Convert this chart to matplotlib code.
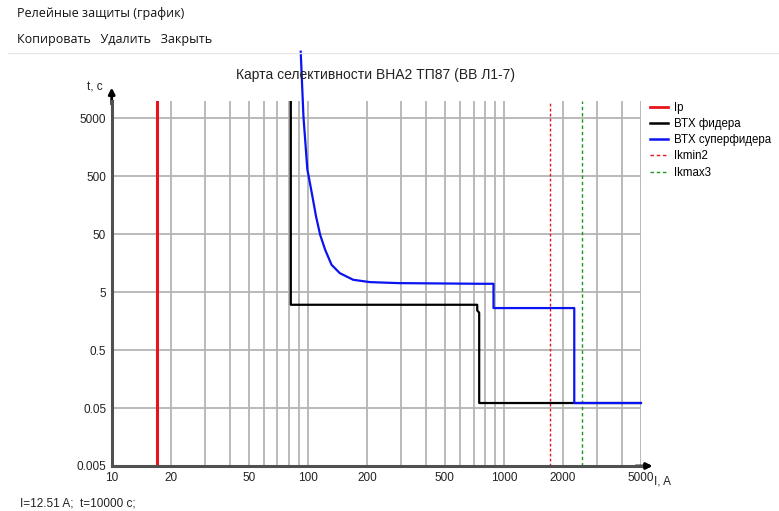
import matplotlib
matplotlib.use("Agg")
import matplotlib.pyplot as plt
from matplotlib.lines import Line2D

plt.rcParams['font.family'] = ['Liberation Sans', 'DejaVu Sans']

# ---- data ----
ip_current = 17.0
ikmin2 = 1708.0
ikmax3 = 2500.0

feeder_I = [81.9, 81.9, 731, 731, 740, 748, 748, 5000]
feeder_t = [10000, 3.02, 3.02, 2.4, 2.3, 2.2, 0.061, 0.061]

super_I = [92.0, 95.0, 99.5, 100.7, 104.8, 110.2, 115.6, 122.6, 132.1, 145.6,
           170.3, 207, 288.6, 757, 885, 885, 2284, 2284, 5000]
super_t = [70000, 5330, 643, 526, 255, 100, 48.6, 26.8, 14.8, 10.6,
           8.15, 7.43, 7.14, 6.95, 6.95, 2.65, 2.65, 0.061, 0.061]

x_ticks = [10, 20, 50, 100, 200, 500, 1000, 2000, 5000]
x_ticklabels = ["10", "20", "50", "100", "200", "500", "1000", "2000", "5000"]
y_ticks = [0.005, 0.05, 0.5, 5, 50, 500, 5000]
y_ticklabels = ["0.005", "0.05", "0.5", "5", "50", "500", "5000"]
x_grid = [20, 30, 40, 50, 60, 70, 80, 90, 100, 200, 300, 400, 500, 600, 700,
          800, 900, 1000, 2000, 3000, 4000, 5000]
y_grid = [0.05, 0.5, 5, 50, 500, 5000]

legend_labels = ["Ip", "ВТХ фидера", "ВТХ суперфидера", "Ikmin2", "Ikmax3"]

W, H = 779, 511
fig = plt.figure(figsize=(W / 100, H / 100), dpi=100)
fig.patch.set_facecolor("white")

# window chrome
fig.text(17 / W, 1 - 14 / H, "Релейные защиты (график)", fontsize=9,
         family=['Open Sans', 'DejaVu Sans'], va='center', ha='left', color='#111111')
fig.text(17 / W, 1 - 40 / H, "Копировать   Удалить   Закрыть", fontsize=9,
         family=['Open Sans', 'DejaVu Sans'], va='center', ha='left', color='#111111')
fig.add_artist(Line2D([8 / W, 1], [1 - 53 / H, 1 - 53 / H], color='#e6e6e6', lw=1))
fig.text(20 / W, 1 - 503 / H, "I=12.51 A;  t=10000 c;", fontsize=8.5,
         va='center', ha='left', color='#222222')

L, R = 111.7 / W, 641 / W
B, T = 1 - 466 / H, 1 - 100.7 / H
ax = fig.add_axes([L, B, R - L, T - B])
ax.set_xscale('log')
ax.set_yscale('log')
ax.set_xlim(10, 5000)
ax.set_ylim(0.005, 10000)

for xv in x_grid:
    ax.axvline(xv, color='#b4b4b4', lw=1.3, zorder=1)
for yv in y_grid:
    ax.axhline(yv, color='#b4b4b4', lw=1.3, zorder=1)

ax.axvline(ip_current, color='#e8141c', lw=2.2, zorder=3)
ax.axvline(ikmin2, color='#e8141c', lw=1.0, ls=(0, (2.0, 1.6)), zorder=3)
ax.axvline(ikmax3, color='#1a9a1a', lw=1.0, ls=(0, (2.5, 2)), zorder=3)
ax.plot(feeder_I, feeder_t, color='black', lw=1.6, zorder=4)
ax.plot(super_I, super_t, color='#0a14f0', lw=1.6, zorder=5, clip_on=False)

ax.set_xticks(x_ticks)
ax.set_xticklabels(x_ticklabels)
ax.set_yticks(y_ticks)
ax.set_yticklabels(y_ticklabels)
ax.minorticks_off()
ax.tick_params(length=0, labelsize=8.5, colors='#222222', pad=4)
for lbl in ax.get_xticklabels():
    lbl.set_va('top')

for s in ['top', 'right']:
    ax.spines[s].set_visible(False)
for s in ['left', 'bottom']:
    ax.spines[s].set_color('#505050')
    ax.spines[s].set_linewidth(2.2)
    ax.spines[s].set_zorder(6)

# axis arrows
ax.annotate('', xy=(0, 1.036), xytext=(0, 0.99), xycoords='axes fraction',
            arrowprops=dict(arrowstyle='-|>', color='black', lw=2.0,
                            mutation_scale=9, shrinkA=0, shrinkB=0))
ax.annotate('', xy=(1.022, 0), xytext=(0.99, 0), xycoords='axes fraction',
            arrowprops=dict(arrowstyle='-|>', color='black', lw=2.0,
                            mutation_scale=9, shrinkA=0, shrinkB=0))

fig.text(95 / W, 1 - 87 / H, "t, c", fontsize=8.5, ha='center', va='center', color='#222222')
fig.text(663 / W, 1 - 481 / H, "I, A", fontsize=8.5, ha='center', va='center', color='#222222')

fig.text(375 / W, 1 - 75 / H, "Карта селективности ВНА2 ТП87 (ВВ Л1-7)",
         fontsize=10, ha='center', va='center', color='#222222')

handles = [
    Line2D([], [], color='#e8141c', lw=2.0),
    Line2D([], [], color='black', lw=1.8),
    Line2D([], [], color='#0a14f0', lw=1.8),
    Line2D([], [], color='#e8141c', lw=1.0, ls=(0, (2.5, 2))),
    Line2D([], [], color='#1a9a1a', lw=1.0, ls=(0, (2.5, 2))),
]
fig.legend(handles, legend_labels, loc='upper left',
           bbox_to_anchor=(650 / W, 1 - 102 / H), frameon=False, fontsize=8.3,
           handlelength=1.6, handletextpad=0.45, labelspacing=0.36,
           borderpad=0, borderaxespad=0)

fig.savefig("out.png", dpi=100)
